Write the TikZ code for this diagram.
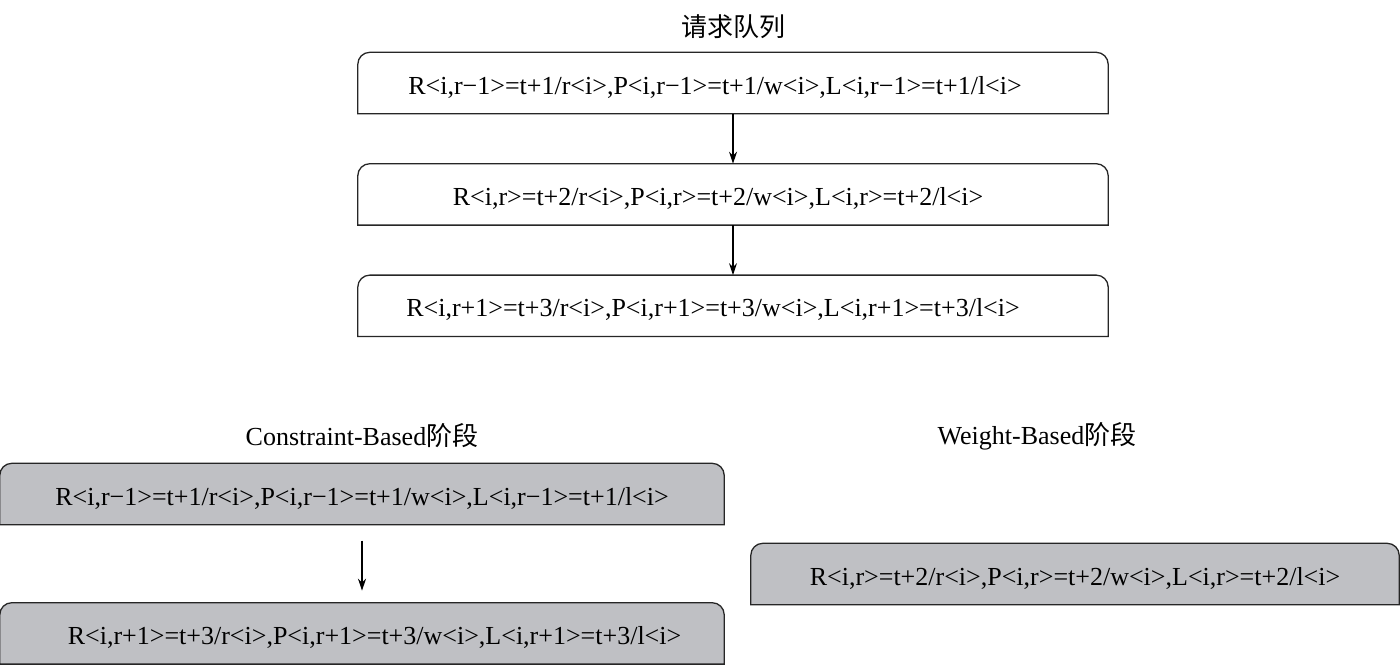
\documentclass[tikz,border=0pt]{standalone}
\usepackage{fontspec}
\setmainfont{Liberation Serif}
\newfontfamily\cjk{Noto Sans CJK SC}
\usepackage{tikz}
\usetikzlibrary{arrows.meta, positioning, backgrounds}
\definecolor{boxgray}{RGB}{191,192,196}

\begin{document}
\begin{tikzpicture}[
                x=1pt, y=1pt,
                node distance=50pt,
                every node/.style={font=\fontsize{26}{30}\selectfont},
                qbox/.style={minimum width=750pt, minimum height=61pt, inner sep=0pt, text height=22pt, text depth=0pt},
                sbox/.style={qbox, minimum width=724pt},
                wbox/.style={qbox, minimum width=648pt},
                title/.style={font=\fontsize{26}{30}\selectfont},
                edge/.style={line width=1.3pt, draw=black!85},
                arrow/.style={-{Stealth[length=12pt, width=8pt]}, line width=1.2pt}]

            \useasboundingbox (0,0) rectangle (1400,-664);

            % Queue
            \node[qbox] (q1) at (733,-83) {R<i,r−1>=t+1/r<i>,P<i,r−1>=t+1/w<i>,L<i,r−1>=t+1/l<i>\kern36pt};
            \node[qbox, below=of q1] (q2) {R<i,r>=t+2/r<i>,P<i,r>=t+2/w<i>,L<i,r>=t+2/l<i>\kern30pt};
            \node[qbox, below=of q2] (q3) {R<i,r+1>=t+3/r<i>,P<i,r+1>=t+3/w<i>,L<i,r+1>=t+3/l<i>\kern40pt};
            \node[title, above=10pt of q1] (qt) {\cjk 请求队列};

            % Constraint-Based
            \node[sbox] (c1) at (362,-494) {R<i,r−1>=t+1/r<i>,P<i,r−1>=t+1/w<i>,L<i,r−1>=t+1/l<i>};
            \node[sbox, below=78pt of c1] (c3) {\kern25pt R<i,r+1>=t+3/r<i>,P<i,r+1>=t+3/w<i>,L<i,r+1>=t+3/l<i>};
            \node[title, above=12pt of c1] (ct) {Constraint-Based{\cjk 阶段}};

            % Weight-Based
            \node[wbox] (w2) at (1075,-574) {R<i,r>=t+2/r<i>,P<i,r>=t+2/w<i>,L<i,r>=t+2/l<i>};
            \node[title] (wt) at (1037,-436) {Weight-Based{\cjk 阶段}};

            \begin{scope}[on background layer]
                \foreach \n/\c in {q1/white, q2/white, q3/white, c1/boxgray, c3/boxgray, w2/boxgray}
                    \draw[edge, fill=\c] (\n.south west) [rounded corners=12pt] -- (\n.north west)
                        -- (\n.north east) [sharp corners] -- (\n.south east) -- cycle;
            \end{scope}

            \draw[arrow] (q1) -- (q2);
            \draw[arrow] (q2) -- (q3);
            \draw[arrow, shorten <=16pt, shorten >=12pt] (c1) -- (c3);

        \end{tikzpicture}
\end{document}
